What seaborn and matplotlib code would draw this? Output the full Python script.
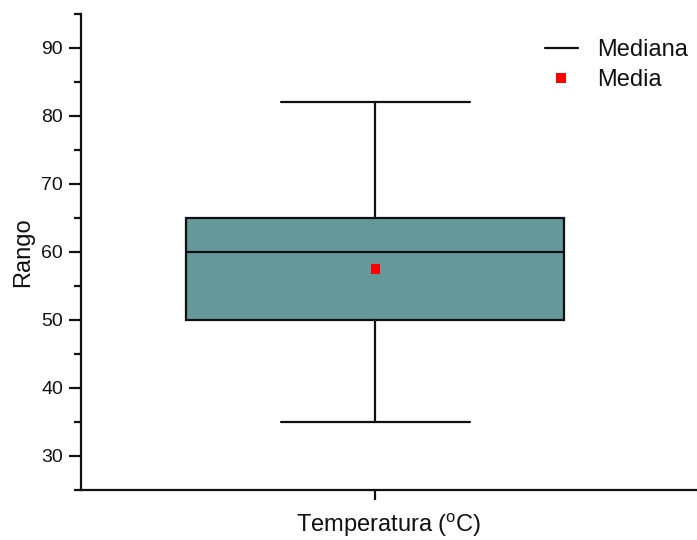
import matplotlib
matplotlib.use("Agg")
import matplotlib.pyplot as plt
from matplotlib.lines import Line2D
from matplotlib.ticker import MultipleLocator
import seaborn as sns
import pandas as pd

# Summary statistics of the temperature range
group_labels = ["Temperatura"]
q1_values = [50.0]
median_values = [60.0]
q3_values = [65.0]
whisker_low = [35.0]
whisker_high = [82.0]
mean_values = [57.5]

sns.set_style("ticks")
plt.rcParams["font.family"] = ["Liberation Sans", "DejaVu Sans"]
plt.rcParams["mathtext.fontset"] = "custom"
plt.rcParams["mathtext.rm"] = "Liberation Sans"
plt.rcParams["text.color"] = "#111111"

fig = plt.figure(figsize=(6.97, 5.40), dpi=100)
ax = fig.add_axes([81 / 697, 50 / 540, (697 - 81) / 697, (490 - 14) / 540])

stats = [
    dict(label=lab, q1=a, med=m, q3=b, whislo=lo, whishi=hi, mean=mu, fliers=[])
    for lab, a, m, b, lo, hi, mu in zip(group_labels, q1_values, median_values,
                                          q3_values, whisker_low, whisker_high,
                                          mean_values)
]
positions = list(range(len(stats)))

ax.bxp(
    stats,
    positions=positions,
    widths=0.8,
    patch_artist=True,
    showmeans=False,
    showfliers=False,
    boxprops=dict(facecolor="#669999", edgecolor="#111111", linewidth=1.6),
    medianprops=dict(color="#111111", linewidth=1.6),
    whiskerprops=dict(color="#111111", linewidth=1.6),
    capprops=dict(color="#111111", linewidth=1.6),
)

mean_df = pd.DataFrame({"pos": positions, "mean": mean_values})
sns.scatterplot(data=mean_df, x="pos", y="mean", ax=ax, marker="s", s=42,
                color="#ff0000", edgecolor="none", zorder=5, legend=False)

ax.set_xlim(-0.622, 0.681)
ax.set_ylim(25, 95)
ax.set_xticks(positions)
ax.tick_params(axis="x", labelbottom=False)
ax.yaxis.set_major_locator(MultipleLocator(10))
ax.yaxis.set_minor_locator(MultipleLocator(5))
ax.set_yticks(range(30, 91, 10))

ax.tick_params(axis="y", which="major", length=9, width=1.6, labelsize=14,
               pad=4, color="#111111", labelcolor="#111111")
ax.tick_params(axis="y", which="minor", length=5, width=1.6, color="#111111")
ax.tick_params(axis="x", which="major", length=7, width=1.6, color="#111111")

for side in ("top", "right"):
    ax.spines[side].set_visible(False)
for side in ("left", "bottom"):
    ax.spines[side].set_linewidth(1.6)
    ax.spines[side].set_color("#111111")

ax.set_ylabel("Rango", fontsize=17, color="#111111", labelpad=5)
ax.set_xlabel(r"Temperatura ($^{\mathrm{o}}$C)", fontsize=17, color="#111111",
              labelpad=8)

handles = [
    Line2D([], [], color="#111111", linewidth=1.6),
    Line2D([], [], color="#ff0000", marker="s", linestyle="none", markersize=6.5,
           markeredgewidth=0),
]
ax.legend(handles, ["Mediana", "Media"], loc="upper right",
          bbox_to_anchor=(1.0, 0.967), frameon=False, fontsize=17,
          handlelength=1.4, handletextpad=0.8, labelspacing=0.35,
          borderaxespad=0.0, labelcolor="#111111")

fig.savefig("out.png", dpi=100)
